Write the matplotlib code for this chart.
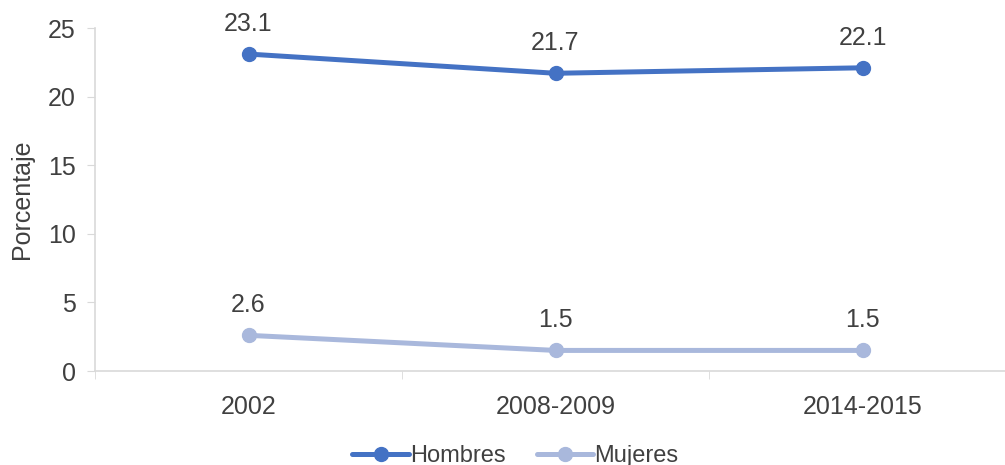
import matplotlib
matplotlib.use('Agg')
import matplotlib.pyplot as plt

# data
periods = ['2002', '2008-2009', '2014-2015']
hombres = [23.1, 21.7, 22.1]
mujeres = [2.6, 1.5, 1.5]
y_ticks = [0, 5, 10, 15, 20, 25]

plt.rcParams['font.family'] = ['Liberation Sans', 'DejaVu Sans']
text_color = '#404040'
axis_color = '#D9D9D9'
fs = 18

W, H = 1005, 465
fig = plt.figure(figsize=(W / 100, H / 100), dpi=100)
# axes spans x 95..1016 px, y 28..371 px
ax = fig.add_axes([95 / W, (H - 371) / H, (1016 - 95) / W, (371 - 28) / H])

x = list(range(len(periods)))
ax.plot(x, hombres, color='#4472C4', linewidth=3.6, marker='o', markersize=10,
        label='Hombres', solid_capstyle='round', zorder=3)
ax.plot(x, mujeres, color='#A9B8DC', linewidth=3.6, marker='o', markersize=10,
        label='Mujeres', solid_capstyle='round', zorder=3)

for series in (hombres, mujeres):
    for xi, v in zip(x, series):
        ax.annotate(f'{v:.1f}', (xi, v), xytext=(0, 13), textcoords='offset points',
                    ha='center', va='bottom', fontsize=fs, color=text_color)

ax.set_xlim(-0.5, len(periods) - 0.5)
ax.set_ylim(0, 25)
ax.set_yticks(y_ticks)
ax.set_xticks(x)
ax.set_xticklabels(periods)
ax.set_xticks([i - 0.5 for i in range(len(periods) + 1)], minor=True)

ax.tick_params(axis='x', which='major', length=0, pad=17, labelsize=fs, labelcolor=text_color)
ax.tick_params(axis='x', which='minor', length=6, color=axis_color, direction='out')
ax.tick_params(axis='y', which='major', length=6, color=axis_color, pad=8,
               labelsize=fs, labelcolor=text_color)

for side in ('top', 'right'):
    ax.spines[side].set_visible(False)
for side in ('left', 'bottom'):
    ax.spines[side].set_color(axis_color)
    ax.spines[side].set_linewidth(1.2)

ax.set_ylabel('Porcentaje', fontsize=fs, color=text_color, labelpad=10)

fig.legend(loc='center', bbox_to_anchor=(0.513, 9 / H), ncol=2, frameon=False,
           fontsize=17, labelcolor=text_color, handlelength=2.4, handletextpad=0.05,
           columnspacing=1.3, borderpad=0)

fig.savefig('out.png', dpi=100)
